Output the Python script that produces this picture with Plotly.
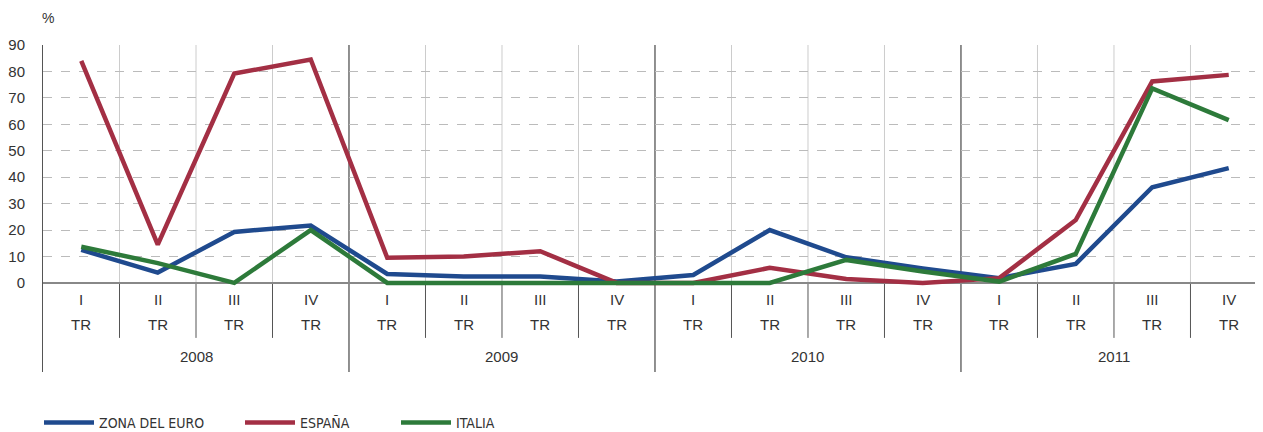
import plotly.graph_objects as go

# quarters and years
quarters = ["I", "II", "III", "IV"] * 4
years = ["2008", "2009", "2010", "2011"]

# series values (%)
zona_euro = [12.5, 3.9, 19.3, 21.7, 3.4, 2.4, 2.4, 0.5, 3.0, 20.0, 9.7, 5.5, 1.8, 7.2, 36.2, 43.4]
espana = [84.0, 14.5, 79.2, 84.5, 9.5, 10.0, 12.0, 0.0, 0.0, 5.7, 1.5, 0.0, 1.8, 23.8, 76.2, 78.7]
italia = [13.7, 7.5, 0.0, 20.0, 0.0, 0.0, 0.0, 0.0, 0.0, 0.0, 8.7, 4.3, 0.5, 11.0, 73.6, 61.6]

x = list(range(len(quarters)))
font = "Liberation Sans"
txt = "#333333"
W, H = 1255, 424

fig = go.Figure()
# each series gets its own legend box so the entries sit where they do in the original
series = [("ZONA DEL EURO", zona_euro, "#1f4a8e", "legend", 31),
          ("ESPAÑA", espana, "#a32f44", "legend2", 232),
          ("ITALIA", italia, "#2d7a3a", "legend3", 388)]
legends = {}
for name, vals, col, leg, lx in series:
    fig.add_trace(go.Scatter(x=x, y=vals, name=name, mode="lines", legend=leg,
                             line=dict(color=col, width=4.5)))
    legends[leg] = dict(orientation="h", x=lx / W, xanchor="left", xref="container",
                        y=9 / H, yanchor="middle", yref="container", itemwidth=50,
                        font=dict(family="DejaVu Sans Condensed, Liberation Sans",
                                  size=14, color=txt),
                        bgcolor="rgba(0,0,0,0)")

shapes = []
for i in range(1, 16):
    b = i - 0.5
    if i % 4 == 0:
        shapes.append(dict(type="line", xref="x", yref="y", x0=b, x1=b, y0=-33.7, y1=90,
                           line=dict(color="#222222", width=1), layer="below"))
    else:
        shapes.append(dict(type="line", xref="x", yref="y", x0=b, x1=b, y0=0, y1=90,
                           line=dict(color="#cccccc", width=1), layer="below"))
        shapes.append(dict(type="line", xref="x", yref="y", x0=b, x1=b, y0=-20.8, y1=0,
                           line=dict(color="#555555", width=1), layer="below"))

annotations = []
for i, q in enumerate(quarters):
    annotations.append(dict(x=i, y=-6.4, xref="x", yref="y", text=q, showarrow=False,
                            font=dict(family=font, size=15, color=txt)))
    annotations.append(dict(x=i, y=-15.9, xref="x", yref="y", text="TR", showarrow=False,
                            font=dict(family=font, size=15, color=txt)))
for j, yr in enumerate(years):
    annotations.append(dict(x=j * 4 + 1.5, y=-28, xref="x", yref="y", text=yr, showarrow=False,
                            font=dict(family=font, size=15, color=txt)))
annotations.append(dict(x=0, y=1.0, xref="paper", yref="paper", yshift=27, yanchor="middle",
                        text="%", showarrow=False, xanchor="left", xshift=-3,
                        font=dict(family=font, size=14, color=txt)))

fig.update_layout(
    width=W, height=H,
    margin=dict(l=35, r=0, t=37, b=60, autoexpand=False),
    plot_bgcolor="white", paper_bgcolor="white",
    showlegend=True,
    xaxis=dict(range=[-0.5, 15.448], showticklabels=False, showgrid=False,
               zeroline=False, showline=False, automargin=False),
    yaxis=dict(range=[-33.7, 90], tickvals=list(range(0, 91, 10)),
               showgrid=True, gridcolor="#bbbbbb", griddash="dash", gridwidth=1,
               zeroline=True, zerolinecolor="#888888", zerolinewidth=2,
               showline=True, linecolor="#555555", linewidth=1,
               ticks="", ticklabelstandoff=14, automargin=False,
               tickfont=dict(family=font, size=15, color=txt)),
    shapes=shapes,
    annotations=annotations,
    **legends,
)

fig.write_html("out.html")
